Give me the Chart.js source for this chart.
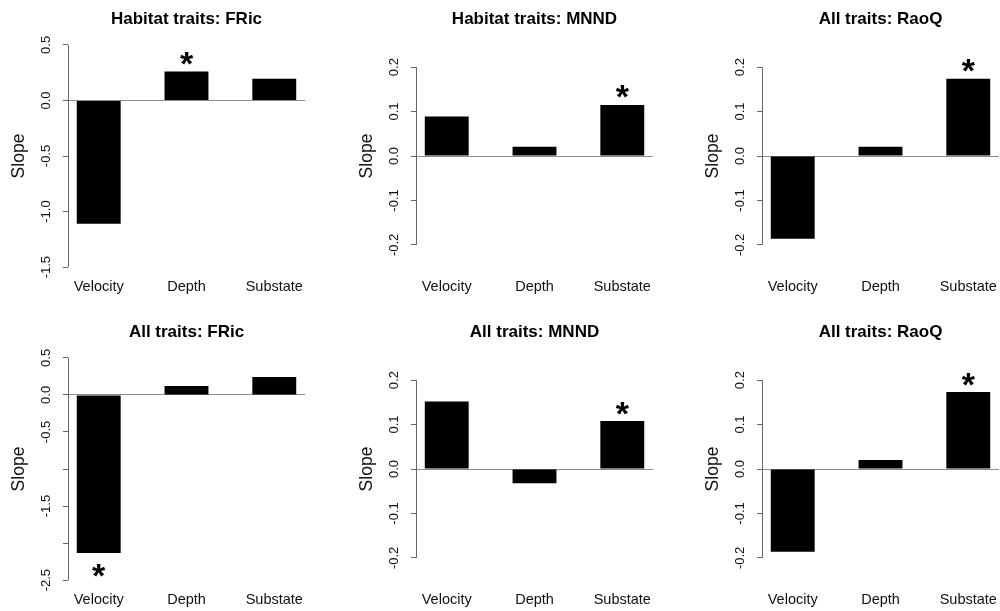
<!DOCTYPE html>
<html>
<head>
<meta charset="utf-8">
<script src="https://cdn.jsdelivr.net/npm/chart.js@4.4.1/dist/chart.umd.min.js"></script>
<style>
    body {
        margin: 0;
        width: 1000px;
        height: 611px;
        overflow: hidden;
        background: #fff;
        position: relative;
    }
    canvas {
        position: absolute;
    }
</style>
</head>
<body>
<script>
const categories = ["Velocity", "Depth", "Substate"];

const titles = [
    "Habitat traits: FRic",
    "Habitat traits: MNND",
    "All traits: RaoQ",
    "All traits: FRic",
    "All traits: MNND",
    "All traits: RaoQ",
];

// slopes
const habitatFRic = [-1.11, 0.26, 0.195];
const habitatMNND = [0.089, 0.021, 0.115];
const allRaoQTop = [-0.186, 0.021, 0.174];
const allFRic = [-2.135, 0.12, 0.243];
const allMNND = [0.152, -0.032, 0.108];
const allRaoQ = [-0.186, 0.02, 0.173];

// which bars carry the asterisk
const sigHabitatFRic = [false, true, false];
const sigHabitatMNND = [false, false, true];
const sigAllRaoQTop = [false, false, true];
const sigAllFRic = [true, false, false];
const sigAllMNND = [false, false, true];
const sigAllRaoQ = [false, false, true];

// y tick values and labels
const fricTicksTop = [0.5, 0, -0.5, -1, -1.5];
const fricLabelsTop = ["0.5", "0.0", "-0.5", "-1.0", "-1.5"];
const fricTicksAll = [0.5, 0, -0.5, -1, -1.5, -2, -2.5];
const fricLabelsAll = ["0.5", "0.0", "-0.5", "", "-1.5", "", "-2.5"];
const smallTicks = [0.2, 0.1, 0, -0.1, -0.2];
const smallLabels = ["0.2", "0.1", "0.0", "-0.1", "-0.2"];

const FONT = "'Liberation Sans', Arial, sans-serif";
const AXIS_W = 68;
const TOP_H = 36;
const AREA_W = 237;
const AREA_H = 240;
const XAXIS_H = 30;

const panels = [
    { values: habitatFRic, sig: sigHabitatFRic, ticks: fricTicksTop, labels: fricLabelsTop, min: -1.58, max: 0.58, left: 68, top: 36 },
    { values: habitatMNND, sig: sigHabitatMNND, ticks: smallTicks, labels: smallLabels, min: -0.27, max: 0.27, left: 416, top: 36 },
    { values: allRaoQTop, sig: sigAllRaoQTop, ticks: smallTicks, labels: smallLabels, min: -0.27, max: 0.27, left: 762, top: 36 },
    { values: allFRic, sig: sigAllFRic, ticks: fricTicksAll, labels: fricLabelsAll, min: -2.62, max: 0.62, left: 68, top: 349 },
    { values: allMNND, sig: sigAllMNND, ticks: smallTicks, labels: smallLabels, min: -0.27, max: 0.27, left: 416, top: 349 },
    { values: allRaoQ, sig: sigAllRaoQ, ticks: smallTicks, labels: smallLabels, min: -0.27, max: 0.27, left: 762, top: 349 },
];

// R barplot layout: bars of width 1 separated by 1, so centres at 1.5, 3.5, 5.5
const barCentre = (i) => 1.5 + 2 * i;

// y axis line (only over the tick range), rotated tick labels and asterisks
const rAxisPlugin = {
    id: "rAxis",
    afterDatasetsDraw(chart) {
        const panel = chart.options.plugins.rAxis;
        const ctx = chart.ctx;
        const meta = chart.getDatasetMeta(0);
        ctx.save();
        ctx.fillStyle = "#000";
        ctx.font = "bold 34px " + FONT;
        ctx.textAlign = "center";
        ctx.textBaseline = "alphabetic";
        const m = ctx.measureText("*");
        const half = (m.actualBoundingBoxAscent - m.actualBoundingBoxDescent) / 2;
        panel.sig.forEach((s, i) => {
            if (!s) return;
            const bar = meta.data[i];
            const centre = panel.values[i] >= 0 ? bar.y - 13 : bar.y + 17;
            ctx.fillText("*", bar.x, centre + half);
        });
        ctx.restore();
    },
    afterDraw(chart) {
        const panel = chart.options.plugins.rAxis;
        const ctx = chart.ctx;
        const y = chart.scales.y;
        const x0 = Math.round(chart.chartArea.left) + 0.5;
        ctx.save();
        ctx.strokeStyle = "#666";
        ctx.lineWidth = 1;
        ctx.beginPath();
        ctx.moveTo(x0, y.getPixelForValue(panel.ticks[0]));
        ctx.lineTo(x0, y.getPixelForValue(panel.ticks[panel.ticks.length - 1]));
        ctx.stroke();

        ctx.fillStyle = "#111";
        ctx.font = "13px " + FONT;
        ctx.textAlign = "center";
        ctx.textBaseline = "middle";
        panel.ticks.forEach((v, i) => {
            ctx.save();
            ctx.translate(chart.chartArea.left - 22, y.getPixelForValue(v));
            ctx.rotate(-Math.PI / 2);
            ctx.fillText(panel.labels[i], 0, 0);
            ctx.restore();
        });
        ctx.restore();
    },
};

function makePanel(panel, index) {
    const canvas = document.createElement("canvas");
    canvas.width = AXIS_W + AREA_W + 3;
    canvas.height = TOP_H + AREA_H + XAXIS_H;
    canvas.style.left = (panel.left - AXIS_W) + "px";
    canvas.style.top = (panel.top - TOP_H) + "px";
    document.body.appendChild(canvas);

    new Chart(canvas, {
        type: "bar",
        data: {
            datasets: [
                {
                    data: panel.values.map((v, i) => ({ x: barCentre(i), y: v })),
                    backgroundColor: "#000",
                    borderWidth: 0,
                    categoryPercentage: 1.0,
                    barPercentage: 0.5,
                },
            ],
        },
        plugins: [rAxisPlugin],
        options: {
            responsive: false,
            animation: false,
            devicePixelRatio: 1,
            layout: { padding: { left: 0, right: 3, top: 0, bottom: 0 } },
            plugins: {
                legend: { display: false },
                tooltip: { enabled: false },
                title: {
                    display: true,
                    text: titles[index],
                    fullSize: false,
                    color: "#000",
                    font: { family: FONT, size: 17, weight: "bold", lineHeight: 1.2 },
                    padding: { top: 8.8, bottom: 6.8 },
                },
                rAxis: panel,
            },
            scales: {
                x: {
                    type: "linear",
                    min: 0.8,
                    max: 6.2,
                    offset: false,
                    afterBuildTicks: (scale) => {
                        scale.ticks = categories.map((c, i) => ({ value: barCentre(i) }));
                    },
                    afterFit: (scale) => {
                        scale.height = XAXIS_H;
                    },
                    ticks: {
                        callback: (value, i) => categories[i],
                        color: "#111",
                        font: { family: FONT, size: 14.5 },
                        padding: 2.5,
                        maxRotation: 0,
                        autoSkip: false,
                    },
                    grid: { display: false, drawTicks: false },
                    border: { display: false },
                },
                y: {
                    min: panel.min,
                    max: panel.max,
                    afterBuildTicks: (scale) => {
                        scale.ticks = panel.ticks.map((v) => ({ value: v }));
                    },
                    afterFit: (scale) => {
                        scale.width = AXIS_W;
                    },
                    ticks: { display: false },
                    grid: {
                        color: (ctx) => (ctx.tick && ctx.tick.value === 0 ? "#8c8c8c" : "rgba(0,0,0,0)"),
                        tickColor: "#666",
                        tickLength: 5,
                        lineWidth: 1,
                    },
                    border: { display: false },
                    title: {
                        display: true,
                        text: "Slope",
                        color: "#111",
                        font: { family: FONT, size: 17.5 },
                        padding: { top: 8.5, bottom: 0 },
                    },
                },
            },
        },
    });
}

panels.forEach(makePanel);
</script>
</body>
</html>
